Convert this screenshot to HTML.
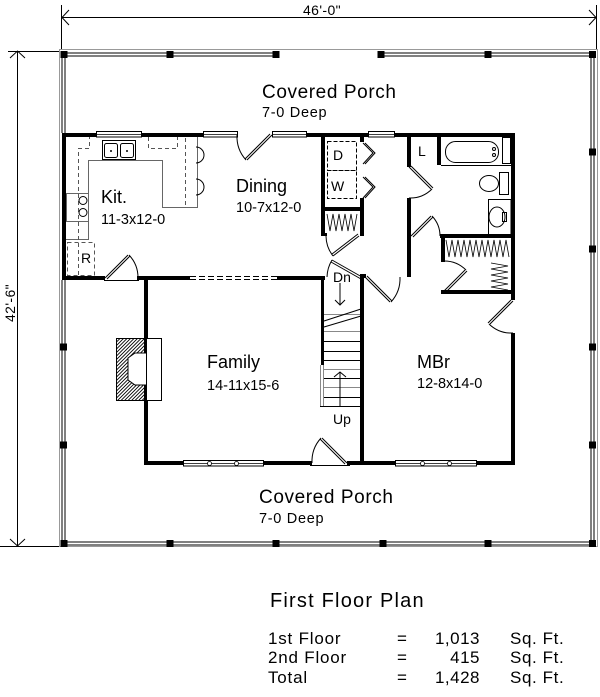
<!DOCTYPE html>
<html><head><meta charset="utf-8"><style>
html,body{margin:0;padding:0;background:#fff;}
svg{display:block;}
text{font-family:"Liberation Sans",Arial,Helvetica,sans-serif;fill:#000;}
</style></head><body>
<svg xmlns="http://www.w3.org/2000/svg" width="600" height="697" viewBox="0 0 600 697">
<defs>
<pattern id="h" patternUnits="userSpaceOnUse" width="3.5" height="3.5"><path d="M-1,1 l2,-2 M0,3.5 l3.5,-3.5 M2.5,4.5 l2,-2" stroke="#000" stroke-width="0.9"/></pattern>
</defs>
<rect width="600" height="697" fill="#fff"/>

<!-- dimensions -->
<g stroke="#000" stroke-width="1" fill="none">
<line x1="62" y1="17.5" x2="596" y2="17.5"/>
<line x1="61.5" y1="5" x2="61.5" y2="50"/>
<line x1="596.5" y1="5" x2="596.5" y2="50"/>
<polyline points="69,10 62,17.5 69,25"/>
<polyline points="589,10 596,17.5 589,25"/>
<line x1="17.5" y1="51" x2="17.5" y2="546"/>
<line x1="8" y1="51.5" x2="60" y2="51.5"/>
<line x1="0" y1="546.5" x2="60" y2="546.5"/>
<polyline points="10,58 17.5,51 25,58"/>
<polyline points="10,539 17.5,546 25,539"/>
</g>
<text x="322" y="15" font-size="14" text-anchor="middle" letter-spacing="0.4">46'-0"</text>
<text transform="translate(17,303) rotate(-90)" x="0" y="-2" font-size="14" text-anchor="middle" letter-spacing="0.4">42'-6"</text>

<!-- porch -->
<rect x="59.5" y="49.5" width="538" height="497" fill="none" stroke="#999" stroke-width="1"/>
<g stroke="#000" stroke-width="1">
<line x1="62" y1="53" x2="276" y2="53"/><line x1="62" y1="56" x2="276" y2="56"/>
<line x1="381" y1="53" x2="594" y2="53"/><line x1="381" y1="56" x2="594" y2="56"/>
<line x1="62" y1="542" x2="594" y2="542"/><line x1="62" y1="545" x2="594" y2="545"/>
<line x1="62" y1="53" x2="62" y2="133"/><line x1="65" y1="53" x2="65" y2="133"/>
<line x1="62" y1="280" x2="62" y2="545"/><line x1="65" y1="280" x2="65" y2="545"/>
<line x1="591" y1="53" x2="591" y2="545"/><line x1="594" y1="53" x2="594" y2="545"/>
</g>
<g fill="#000">
<rect x="60.5" y="51" width="7" height="7"/><rect x="166.5" y="51" width="7" height="7"/><rect x="272.5" y="51" width="7" height="7"/>
<rect x="377.5" y="51" width="7" height="7"/><rect x="484.5" y="51" width="7" height="7"/><rect x="589" y="51" width="7" height="7"/>
<rect x="60.5" y="540" width="7" height="7"/><rect x="166.5" y="540" width="7" height="7"/><rect x="272.5" y="540" width="7" height="7"/>
<rect x="379.5" y="540" width="7" height="7"/><rect x="484.5" y="540" width="7" height="7"/><rect x="589" y="540" width="7" height="7"/>
<rect x="60" y="343.5" width="7" height="7"/><rect x="60" y="441.5" width="7" height="7"/>
<rect x="589" y="148.5" width="7" height="7"/><rect x="589" y="245.5" width="7" height="7"/>
<rect x="589" y="343.5" width="7" height="7"/><rect x="589" y="441.5" width="7" height="7"/>
</g>

<!-- walls -->
<g fill="#000">
<rect x="62" y="133" width="176" height="4"/>
<rect x="272" y="133" width="243" height="4"/>
<rect x="62" y="133" width="4" height="147"/>
<rect x="62" y="276" width="43" height="4"/>
<rect x="137" y="276" width="53" height="4"/>
<rect x="144" y="276" width="4" height="189"/>
<rect x="144" y="461" width="168" height="4"/>
<rect x="347" y="461" width="168" height="4"/>
<rect x="511" y="133" width="4" height="167"/>
<rect x="511" y="333" width="4" height="132"/>
<rect x="277" y="276" width="48" height="4"/>
<rect x="321" y="133" width="4" height="103"/>
<rect x="321" y="207" width="43" height="4"/>
<rect x="360" y="198" width="4" height="38"/>
<rect x="360" y="133" width="4" height="9"/>
<rect x="321" y="233" width="6" height="3"/>
<rect x="321" y="276" width="3" height="89"/>
<rect x="360" y="274" width="4" height="191"/>
<rect x="360" y="274" width="6" height="4"/>
<rect x="407" y="133" width="4" height="34"/>
<rect x="407" y="198" width="4" height="79"/>
<rect x="437" y="133" width="4" height="32"/>
<rect x="440" y="234" width="75" height="4"/>
<rect x="441" y="234" width="4" height="28"/>
<rect x="441" y="290" width="74" height="4"/>
</g>

<!-- dashed opening dining/family -->
<g stroke="#000" stroke-width="1" stroke-dasharray="6,3">
<line x1="190" y1="276.5" x2="277" y2="276.5"/><line x1="190" y1="279.5" x2="277" y2="279.5"/>
</g>

<!-- windows -->
<g fill="#fff" stroke="#000" stroke-width="1">
<rect x="96.5" y="131.5" width="45" height="5.5"/>
<rect x="203.5" y="131.5" width="34" height="5.5"/>
<rect x="272.5" y="131.5" width="34" height="5.5"/>
<rect x="368.5" y="131.5" width="26" height="5.5"/>
<rect x="183.5" y="460.5" width="80" height="5.5"/>
<rect x="395.5" y="460.5" width="81" height="5.5"/>
</g>
<g stroke="#000" stroke-width="0.7">
<line x1="97" y1="134.5" x2="141" y2="134.5"/><line x1="204" y1="134.5" x2="237" y2="134.5"/>
<line x1="273" y1="134.5" x2="306" y2="134.5"/><line x1="369" y1="134.5" x2="394" y2="134.5"/>
<line x1="184" y1="463.5" x2="263" y2="463.5"/><line x1="396" y1="463.5" x2="476" y2="463.5"/>
</g>
<g fill="#fff" stroke="#000" stroke-width="0.8">
<circle cx="209.5" cy="463.5" r="2"/><circle cx="236.5" cy="463.5" r="2"/>
<circle cx="422.5" cy="463.5" r="2"/><circle cx="449.5" cy="463.5" r="2"/>
</g>

<!-- doors -->
<g stroke="#000" stroke-width="1" fill="none">
<line x1="272" y1="135" x2="247" y2="160"/><line x1="270" y1="134" x2="245" y2="159"/>
<path d="M246,160 A35,35 0 0 1 237,135"/>
<line x1="105" y1="278" x2="128" y2="255"/><line x1="107" y1="279" x2="130" y2="256"/>
<path d="M129,255 A33,33 0 0 1 138,278"/>
<line x1="104" y1="280.5" x2="139" y2="280.5"/>
<line x1="347" y1="463" x2="322" y2="438"/><line x1="345" y1="464" x2="320" y2="439"/>
<path d="M321,438 A35,35 0 0 0 312,463"/>
<line x1="310" y1="465.5" x2="350" y2="465.5"/>
<line x1="362" y1="277" x2="332" y2="260"/><line x1="361" y1="279" x2="331" y2="262"/>
<path d="M332,260 A35,35 0 0 0 327,277"/>
<line x1="365" y1="277" x2="390" y2="302"/><line x1="367" y1="276" x2="392" y2="301"/>
<path d="M391,302 A35,35 0 0 0 400,277"/>
<line x1="513" y1="301" x2="490" y2="324"/><line x1="511" y1="300" x2="488" y2="323"/>
<path d="M489,324 A32,32 0 0 0 513,333"/>
<line x1="443" y1="292" x2="465" y2="270"/><line x1="445" y1="293" x2="467" y2="271"/>
<path d="M466,270 A31,31 0 0 0 443,261"/>
<line x1="409" y1="167" x2="431" y2="189"/><line x1="411" y1="166" x2="433" y2="188"/>
<path d="M432,189 A31,31 0 0 1 409,198"/>
<line x1="411" y1="236" x2="431" y2="216"/><line x1="413" y1="237" x2="433" y2="217"/>
<path d="M432,216 A29,29 0 0 1 440,236"/>
<line x1="359" y1="236" x2="333" y2="256"/><line x1="358" y1="234" x2="332" y2="254"/>
<path d="M333,256 A33,33 0 0 1 326,236"/>
<polyline points="363,143 373,153 363,164"/><polyline points="365,143 375,153 365,164"/>
<polyline points="363,177 373,187 363,198"/><polyline points="365,177 375,187 365,198"/>
</g>

<!-- laundry appliances -->
<g stroke="#000" stroke-width="1" fill="none" stroke-dasharray="4,2">
<rect x="327.5" y="141.5" width="29" height="29"/>
<rect x="327.5" y="170.5" width="29" height="28"/>
</g>
<text x="333" y="160" font-size="14">D</text>
<text x="331" y="191" font-size="14">W</text>
<text x="418" y="156" font-size="14">L</text>

<!-- closet clothes -->
<g stroke="#000" stroke-width="0.8" fill="none">
<polyline points="327,214 330,231 333,214 336,231 339,214 342,231 345,214 348,231 351,214 354,231 357,214"/>
<polyline points="446,240 449,257 452,240 455,257 458,240 461,257 464,240 467,257 470,240 473,257 476,240 479,257 482,240 485,257 488,240 491,257 494,240 497,257 500,240 503,257 506,240 509,257"/>
<polyline points="491,263 508,266 491,269 508,272 491,275 508,278 491,281 508,284 491,287 508,290"/>
</g>

<!-- stairs -->
<g stroke="#888" stroke-width="1" fill="none">
<line x1="320.5" y1="365" x2="320.5" y2="407"/><line x1="323.5" y1="365" x2="323.5" y2="407"/>
<line x1="324" y1="314.5" x2="360" y2="314.5"/><line x1="324" y1="331.5" x2="360" y2="331.5"/>
<line x1="324" y1="369.5" x2="360" y2="369.5"/><line x1="324" y1="387.5" x2="360" y2="387.5"/>
</g>
<g stroke="#000" stroke-width="1" fill="none">
<line x1="324" y1="341.5" x2="360" y2="341.5"/><line x1="324" y1="351.5" x2="360" y2="351.5"/>
<line x1="324" y1="360.5" x2="360" y2="360.5"/><line x1="324" y1="378.5" x2="360" y2="378.5"/>
<line x1="324" y1="397.5" x2="360" y2="397.5"/><line x1="320" y1="406.5" x2="360" y2="406.5"/>
<line x1="324" y1="321" x2="361" y2="309"/><line x1="324" y1="327" x2="361" y2="316"/>
<line x1="340" y1="283" x2="340" y2="305"/><polyline points="335,300 340,305 345,300"/>
<line x1="340" y1="372" x2="340" y2="407"/><polyline points="334,377 340,372 346,377"/>
</g>
<text x="333" y="282" font-size="14">Dn</text>
<text x="333" y="424" font-size="14">Up</text>

<!-- fireplace -->
<rect x="116.5" y="338.5" width="30" height="62" fill="url(#h)" stroke="#000" stroke-width="1"/>
<path d="M147,353 L135,353 L128,358 L128,380 L135,385 L147,385 Z" fill="#fff" stroke="#000" stroke-width="1"/>
<rect x="146.5" y="338.5" width="15" height="62" fill="#fff" stroke="#000" stroke-width="1"/>

<!-- kitchen -->
<g stroke="#666" stroke-width="1" fill="none">
<polyline points="88.5,240 88.5,160.5 162.5,160.5 162.5,207.5 197.5,207.5 197.5,137"/>
<rect x="66.5" y="193.5" width="22" height="28"/>
<line x1="66" y1="239.5" x2="88" y2="239.5"/>
</g>
<g stroke="#555" stroke-width="1" fill="none" stroke-dasharray="4,3">
<polyline points="78.5,275 78.5,148.5 89.5,148.5 89.5,137"/>
<polyline points="148.5,137 148.5,148.5 177.5,148.5 177.5,137"/>
<line x1="185.5" y1="138" x2="185.5" y2="207"/>
<rect x="67.5" y="242.5" width="27" height="33"/>
</g>
<g stroke="#000" stroke-width="1" fill="none">
<circle cx="83" cy="200.5" r="4"/><circle cx="83" cy="212.5" r="4"/>
<path d="M196,147 A8,8 0 0 1 196,163"/><path d="M196,179 A8,8 0 0 1 196,195"/>
<rect x="102.5" y="140.5" width="33" height="19"/>
<rect x="104.5" y="143.5" width="13" height="14" rx="2"/><rect x="120.5" y="143.5" width="13" height="14" rx="2"/>
</g>
<circle cx="111" cy="151" r="1" fill="#000"/><circle cx="127" cy="151" r="1" fill="#000"/>
<text x="81" y="263" font-size="14">R</text>

<!-- bath fixtures -->
<g stroke="#000" stroke-width="1" fill="none">
<line x1="441" y1="165.5" x2="511" y2="165.5"/>
<rect x="445.5" y="141.5" width="53" height="21" rx="10"/>
<rect x="502.5" y="137.5" width="8" height="26"/>
<circle cx="494" cy="149" r="1.5"/><circle cx="494" cy="155" r="1.5"/>
<rect x="499.5" y="172.5" width="9" height="22"/>
<ellipse cx="489" cy="183.5" rx="9.5" ry="8"/>
<rect x="488.5" y="199.5" width="22.5" height="35"/>
<ellipse cx="497" cy="217" rx="8" ry="10"/>
<rect x="502.5" y="212.5" width="4" height="9"/>
</g>

<!-- labels -->
<text x="262" y="98" font-size="19" letter-spacing="0.6">Covered Porch</text>
<text x="262" y="117" font-size="14.5" letter-spacing="0.7">7-0 Deep</text>
<text x="101" y="203" font-size="18">Kit.</text>
<text x="101" y="224" font-size="14.5">11-3x12-0</text>
<text x="236" y="192" font-size="18">Dining</text>
<text x="236" y="212" font-size="14.5">10-7x12-0</text>
<text x="207" y="368" font-size="18">Family</text>
<text x="207" y="390" font-size="14.5">14-11x15-6</text>
<text x="417" y="368" font-size="18">MBr</text>
<text x="417" y="388" font-size="14.5">12-8x14-0</text>
<text x="259" y="503" font-size="19" letter-spacing="0.6">Covered Porch</text>
<text x="259" y="523" font-size="14.5" letter-spacing="0.7">7-0 Deep</text>

<text x="270" y="607" font-size="20" letter-spacing="1.2">First Floor Plan</text>
<g font-size="17">
<text x="268" y="644" letter-spacing="0.8">1st Floor</text>
<text x="268" y="663" letter-spacing="0.8">2nd Floor</text>
<text x="268" y="683" letter-spacing="0.8">Total</text>
<text x="397" y="644">=</text><text x="397" y="663">=</text><text x="397" y="683">=</text>
<text x="480" y="644" text-anchor="end" letter-spacing="0.5">1,013</text>
<text x="480" y="663" text-anchor="end" letter-spacing="0.5">415</text>
<text x="480" y="683" text-anchor="end" letter-spacing="0.5">1,428</text>
<text x="510" y="644" letter-spacing="0.6">Sq. Ft.</text>
<text x="510" y="663" letter-spacing="0.6">Sq. Ft.</text>
<text x="510" y="683" letter-spacing="0.6">Sq. Ft.</text>
</g>
</svg>
</body></html>
